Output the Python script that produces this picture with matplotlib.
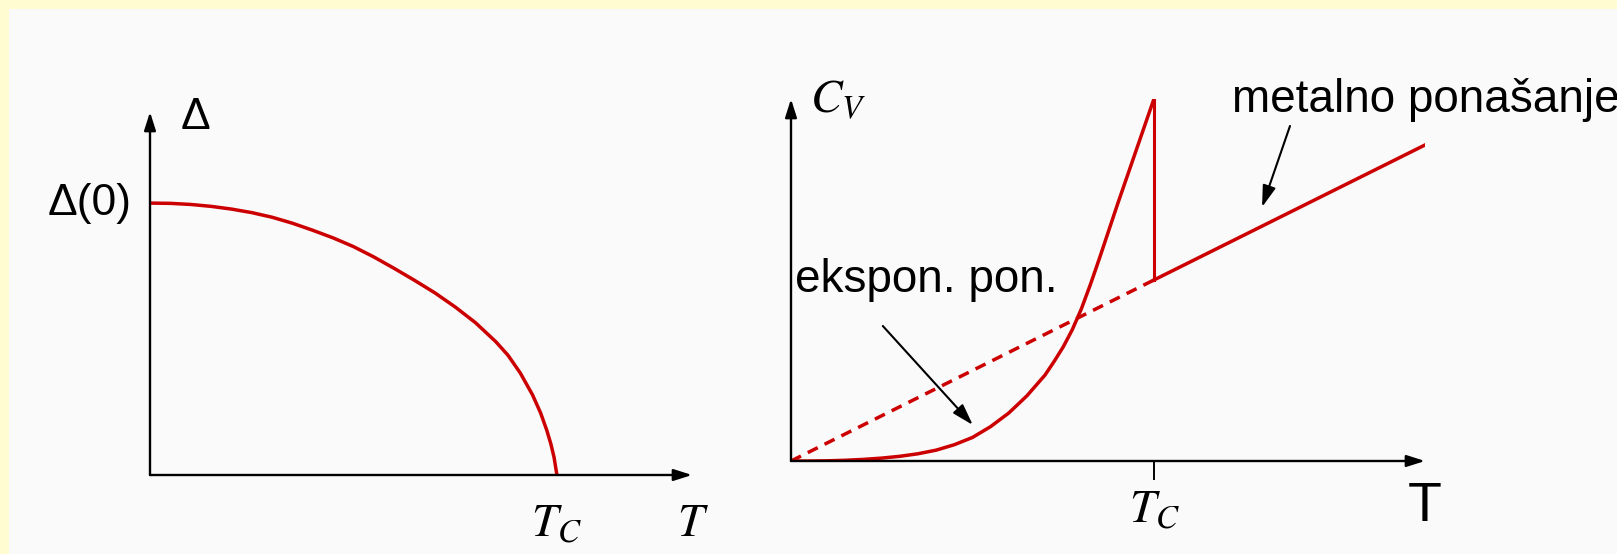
import matplotlib
matplotlib.use('Agg')
import matplotlib.pyplot as plt
from matplotlib.patches import Rectangle

plt.rcParams['mathtext.fontset'] = 'stix'

#%% data (T in units of Tc)
# gap vs temperature
t_gap = [0, 0.05, 0.1, 0.15, 0.2, 0.25, 0.3, 0.35, 0.4, 0.45, 0.5, 0.55, 0.6, 0.65, 0.7,
         0.75, 0.8, 0.85, 0.88, 0.91, 0.94, 0.96, 0.975, 0.985, 0.993, 1.0]
gap = [1.0, 0.999, 0.995, 0.988, 0.978, 0.965, 0.948, 0.926, 0.90, 0.872, 0.84, 0.802, 0.76,
       0.716, 0.67, 0.618, 0.56, 0.49, 0.44, 0.375, 0.295, 0.228, 0.165, 0.115, 0.065, 0.0]

# specific heat, superconducting branch
t_sc = [0, 0.05, 0.1, 0.15, 0.2, 0.25, 0.3, 0.35, 0.4, 0.45, 0.5, 0.55, 0.6, 0.65, 0.7,
        0.725, 0.75, 0.775, 0.8, 0.825, 0.85, 0.9, 0.95, 1.0]
c_sc = [0, 0.0, 0.001, 0.004, 0.009, 0.016, 0.026, 0.04, 0.06, 0.09, 0.13, 0.19, 0.265,
        0.36, 0.475, 0.55, 0.63, 0.725, 0.84, 0.975, 1.12, 1.42, 1.71, 2.0]

# normal (metallic) branch: dashed below Tc, solid above
t_norm_low = [0, 1.0]
c_norm_low = [0, 1.0]
t_norm_high = [1.0, 1.747]
c_norm_high = [1.0, 1.746]
t_jump = [1.0, 1.0]
c_jump = [2.0, 1.0]

red = '#cc0000'
W, H = 1617, 554

fig = plt.figure(figsize=(W/100, H/100), dpi=100)
fig.patch.set_facecolor('#fffcd2')
fig.patches.append(Rectangle((9/W, 0), 1, 1 - 9/H, transform=fig.transFigure,
                             facecolor='#fafafa', edgecolor='none', zorder=-10))

def axis_arrows(ax):
    for s in ax.spines.values():
        s.set_visible(False)
    ax.set_xticks([])
    ax.set_yticks([])
    ax.patch.set_alpha(0)
    kw = dict(arrowstyle='-|>,head_length=1.1,head_width=0.35', color='k', lw=1.7,
              shrinkA=0, shrinkB=0)
    ax.annotate('', xy=(1, 0), xytext=(0, 0), xycoords='axes fraction', arrowprops=kw)
    ax.annotate('', xy=(0, 1), xytext=(0, 0), xycoords='axes fraction', arrowprops=kw)

#%% left: gap
ax1 = fig.add_axes([150/W, (H-475)/H, (692-150)/W, (475-112)/H])
ax1.set_xlim(0, 1.332)
ax1.set_ylim(0, 1.335)
axis_arrows(ax1)
ax1.plot(t_gap, gap, color=red, lw=2.5, solid_joinstyle='round')
ax1.text(0.113, 1.315, 'Δ', fontsize=32, family='Liberation Sans', ha='center', va='center')
ax1.text(-0.045, 1.0, 'Δ(0)', fontsize=32, family='Liberation Sans', ha='right', va='center')
ax1.text(1.0, -0.18, '$T_C$', fontsize=34, ha='center', va='center')
ax1.text(1.334, -0.18, '$T$', fontsize=34, ha='center', va='center')

#%% right: specific heat
ax2 = fig.add_axes([791/W, (H-461)/H, (1425-791)/W, (461-99)/H])
ax2.set_xlim(0, 1.747)
ax2.set_ylim(0, 2.0)
axis_arrows(ax2)
ax2.plot(t_sc, c_sc, color=red, lw=2.5, solid_joinstyle='round')
ax2.plot(t_norm_low, c_norm_low, color=red, lw=2.5, ls=(0, (3.2, 2.2)))
ax2.plot(t_norm_high, c_norm_high, color=red, lw=2.5)
ax2.plot(t_jump, c_jump, color=red, lw=2.2)
ax2.plot([1.0, 1.0], [0, -0.1], color='k', lw=1.4, clip_on=False)

ax2.text(0.052, 1.99, '$C_V$', fontsize=34, ha='left', va='center')
ax2.text(1.003, -0.27, '$T_C$', fontsize=34, ha='center', va='center')
ax2.text(1.747, -0.254, 'T', fontsize=40, family='Liberation Sans', ha='center', va='center')

ax2.text(1.215, 1.928, 'metalno ponašanje', fontsize=33, family='Liberation Sans',
         ha='left', va='baseline')
ax2.text(0.011, 0.934, 'ekspon. pon.', fontsize=33, family='Liberation Sans',
         ha='left', va='baseline')

arr = dict(arrowstyle='-|>,head_length=1.3,head_width=0.4', color='k', lw=1.5,
           shrinkA=0, shrinkB=0)
ax2.annotate('', xy=(1.298, 1.403), xytext=(1.375, 1.851), arrowprops=arr)
ax2.annotate('', xy=(0.501, 0.199), xytext=(0.253, 0.746), arrowprops=arr)

fig.savefig('out.png', dpi=100, facecolor=fig.get_facecolor())
